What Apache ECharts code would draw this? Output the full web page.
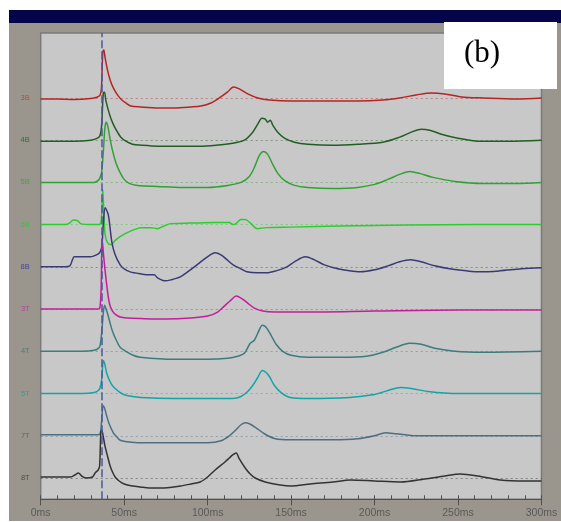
<!DOCTYPE html>
<html>
<head>
<meta charset="utf-8">
<script src="https://cdn.jsdelivr.net/npm/echarts@6/dist/echarts.min.js"></script>
<style>
  html, body { margin: 0; padding: 0; background: #ffffff; }
  #wrap { position: relative; width: 561px; height: 522px; overflow: hidden; }
  #frame { position: absolute; left: 9px; top: 10px; width: 552px; height: 511px; background: #9a968e; }
  #bar { position: absolute; left: 9px; top: 10px; width: 552px; height: 13px; background: #04044a; }
  #chart { position: absolute; left: 0; top: 0; width: 561px; height: 522px; }
</style>
</head>
<body>
<div id="wrap">
  <div id="frame"></div>
  <div id="bar"></div>
  <div id="chart"></div>
</div>
<script>
// ---- data (time in ms, deflection in trace units, up = positive) ----
const channels = ['3B', '4B', '5B', '6B', '8B', '3T', '4T', '5T', '7T', '8T'];
const xTicks = [0, 50, 100, 150, 200, 250, 300];
const markerTime = 36.8;

const trace3B = [[0,-1],[10,-1],[20,-1.5],[30,-0.5],[34,1],[35.6,3],[36.4,10],[37.2,46],[37.8,48],[38.6,40],[40,28],[41.6,18],[43.5,10],[46,3],[48,-1],[51,-5],[54,-8],[60,-9],[70,-10],[80,-10],[90,-9],[96,-8],[102,-5],[107,0],[112,6],[115.5,11],[119,9],[124,4],[130,0],[137,-2],[150,-3],[170,-3],[190,-3],[205,-2],[215,0],[225,3],[234,5],[242,4],[252,1],[265,0],[285,-1],[300,0]];
const trace4B = [[0,-1],[20,-1],[30,0],[34,2],[35.6,5],[36.5,15],[37.5,47],[38.2,48],[39,40],[40.5,30],[42,22],[44,14],[46,8],[48,3],[51,-1],[55,-4],[60,-5],[70,-6],[80,-6],[95,-6],[105,-5],[115,-3],[122,0],[127,8],[130,16],[132.5,22],[134.5,21],[136,18],[137.5,20],[139,15],[142,8],[146,2],[152,-2],[160,-4],[175,-5],[190,-4],[205,-2],[215,3],[222,8],[228,11],[233,10],[240,6],[250,2],[262,-1],[280,-1],[300,0]];
const trace5B = [[0,0],[20,0],[32,0],[34.5,2],[35.6,5],[36.5,10],[37.5,30],[38.5,55],[39.3,60],[40.2,56],[41.5,44],[43,32],[45,20],[47.5,10],[50,3],[53,-1],[58,-3],[70,-4],[85,-5],[100,-5],[112,-3],[120,0],[125,6],[128,15],[131,27],[133.5,31],[136,28],[139,18],[142,9],[146,2],[152,-3],[160,-5],[175,-6],[190,-5],[200,-2],[208,3],[215,8],[221,11],[227,9],[235,5],[248,1],[265,-1],[285,-1],[300,0]];
const trace6B = [[0,0],[15,0],[17.6,2],[19.5,4.5],[22,4],[24,1],[30,0],[35,0],[36.3,5],[37.2,35],[37.8,12],[38.6,-10],[40,-18],[42.2,-20],[44.5,-16],[47.5,-12],[51.8,-8],[56,-5],[60,-3],[66,-3],[70,-4],[73,-2],[78,1],[90,1.5],[105,2],[113,2],[115.3,0],[117,1],[120,5],[122.5,5],[126,1],[129.7,-4],[135,-3],[150,-2.5],[180,-1.5],[220,-0.5],[260,0],[300,0]];
const trace8B = [[0,0],[15,0],[17.5,1],[19,7],[20,10],[25,10],[29.6,10],[32,11],[34.5,13],[35.6,15],[36.6,20],[37.6,45],[38.6,59],[40.5,52],[42.6,25],[44.6,12],[47.6,2],[50,-2],[53.6,-5],[60,-7],[65.6,-8],[68,-8],[70,-11],[74.6,-14],[78,-13],[83.6,-10],[88,-5],[93.6,2],[99,9],[104.5,14],[108,12],[111,8],[115.3,2],[120,-2],[123.5,-5],[130,-6],[135.5,-6],[141,-4],[147.5,0],[152,5],[158.5,10],[164,7],[170,2],[178,-2],[185,-4],[191.5,-5],[200,-3],[208,1],[215,5],[221.5,7],[228,5],[236,1],[245,-2],[255,-4],[263.4,-5],[275,-4],[288,-2],[300,-1]];
const trace3T = [[0,0],[20,0],[30,0],[34,0],[35.4,1],[36.2,20],[36.8,70],[37.6,55],[38.6,38],[39.5,25],[40.5,12],[41.6,3],[43,-2],[44.6,-5],[47.6,-8],[52,-9],[60,-9.5],[75,-10],[90,-9],[100,-7],[106,-3],[110,3],[114,9],[117.1,13],[120,11],[124,6],[128,1],[133,-2],[140,-3],[160,-3],[200,-2],[250,-1],[300,-1]];
const trace4T = [[0,0],[25,0],[32,1],[34.5,3],[35.6,6],[36.6,20],[37.6,40],[38.3,46],[39.2,42],[40.5,35],[41.6,28],[43,20],[45,12],[47.6,4],[51,0],[55.4,-4],[59.6,-6],[80,-8],[100,-8],[112,-7],[118,-5],[122,-2],[125.5,8],[128,11],[130,18],[132.8,26],[135,24],[138,16],[141,7],[145,0],[150,-4],[160,-6],[180,-6],[195,-5],[205,-1],[213,4],[221,8],[228,7],[236,3],[248,0],[265,-1],[300,0]];
const trace5T = [[0,0],[25,0],[32,1],[34.5,3],[35.6,6],[36.6,15],[37.5,33],[38.3,30],[39.6,20],[41.5,12],[43.4,7],[46,3],[48.5,0],[51.6,-2],[60,-4],[80,-5],[100,-5],[115,-5],[120,-3],[124,2],[127,8],[130,16],[132.8,23],[135,21],[137,17],[140,8],[144,1],[149.6,-4],[160,-5],[185,-4],[200,-1],[208,3],[215.5,6],[222,5],[232,2],[250,0],[270,0],[300,0]];
const trace7T = [[0,1],[25,1],[34,1],[35.6,2],[36.5,15],[37.4,30],[38.2,28],[39.5,20],[41,12],[43.5,3],[45.5,-1],[47.6,-4.5],[52,-6],[59.6,-7],[80,-7],[100,-7],[108,-5],[113,0],[117,6],[120,11],[122.5,13],[125,12],[129,8],[134,2],[140.5,-3],[150,-4],[175,-4],[190,-3],[200,0],[206.5,3],[213,2],[225,0],[250,0],[300,0]];
const trace8T = [[0,1],[18,1],[20.5,3],[22.6,5],[24.5,2],[27,0],[31,1],[32.6,5],[34.4,8],[35.3,12],[36,45],[36.6,48],[37.4,42],[38.5,32],[40,22],[41.6,12],[43,6],[44.6,1],[47,-3],[50,-6],[55,-8],[59.6,-9],[65,-10],[72,-10],[83.6,-8],[90,-6],[95.5,-4],[100,1],[104.5,8],[110.4,16],[113,20],[115,23],[117.1,25],[119,19],[122.5,10],[125.5,4],[128.5,0],[134.5,-4],[143.5,-7],[150,-8],[161.5,-6],[175,-4],[185.6,-2],[200,-3],[215.5,-4],[230,-1],[242,2],[251.4,4],[262,2],[275.4,-2],[290,-3],[300,-3]];

const traces = [trace3B, trace4B, trace5B, trace6B, trace8B, trace3T, trace4T, trace5T, trace7T, trace8T];

// ---- styling ----
const lineColors = ['#b52424', '#225e22', '#33a033', '#2ccc2c', '#3a3a74', '#c41c9c', '#3c7c7c', '#14a4a4', '#4e6e82', '#333333'];
const labelColors = ['#c04848', '#2e6e2e', '#44a444', '#3cc03c', '#44449a', '#bc3ca0', '#447e7e', '#22a2a2', '#546c7e', '#4a4a4a'];
const spacing = 42.2;      // vertical distance between channel baselines (axis units)
const bottomOffset = 21.3; // baseline of last channel above axis
const yMax = 466;
const baselines = channels.map((c, i) => bottomOffset + spacing * (channels.length - 1 - i));

const chart = echarts.init(document.getElementById('chart'), null, { renderer: 'canvas' });

const rich = {};
channels.forEach((c, i) => { rich['c' + i] = { color: labelColors[i], fontSize: 7.5, fontFamily: 'Liberation Sans' }; });

const series = traces.map((tr, i) => ({
  name: channels[i],
  type: 'line',
  xAxisIndex: 0,
  yAxisIndex: 0,
  data: tr.map(p => [p[0], baselines[i] + p[1]]),
  showSymbol: false,
  symbol: 'none',
  smooth: 0.3,
  lineStyle: { color: lineColors[i], width: 1.5 },
  z: 3,
  markLine: {
    silent: true,
    symbol: 'none',
    label: { show: false },
    lineStyle: { color: lineColors[i], opacity: 0.45, type: [2, 3], width: 1 },
    data: [{ yAxis: baselines[i] }],
    z: 2
  }
}));

series.push({
  type: 'line',
  data: [],
  z: 10,
  markLine: {
    silent: true,
    symbol: 'none',
    label: { show: false },
    lineStyle: { color: '#4a5aa0', type: [8, 3], width: 1.5 },
    data: [{ xAxis: markerTime }],
    z: 10
  }
});

chart.setOption({
  backgroundColor: 'transparent',
  animation: false,
  grid: {
    left: 40.7, top: 33, right: 19.5, bottom: 22.7,
    show: true, backgroundColor: '#c8c8c8', borderColor: '#7a7a78', borderWidth: 1.5
  },
  xAxis: [{
    type: 'value', min: 0, max: 300, interval: 50, position: 'bottom',
    axisLine: { show: true, onZero: false, lineStyle: { color: '#505050', width: 1 } },
    axisTick: { show: true, inside: false, length: 6, lineStyle: { color: '#505050' } },
    axisLabel: {
      color: '#5a5a5a', fontSize: 10.5, fontFamily: 'Liberation Sans', margin: 8,
      customValues: xTicks, formatter: v => v + 'ms'
    },
    splitLine: { show: false }
  }, {
    type: 'value', min: 0, max: 300, interval: 10, position: 'bottom',
    axisLine: { show: false, onZero: false },
    axisTick: { show: true, inside: true, length: 4, lineStyle: { color: '#505050' } },
    axisLabel: { show: false },
    splitLine: { show: false }
  }],
  yAxis: {
    type: 'value', min: 0, max: yMax,
    axisLine: { show: false },
    axisTick: { show: false },
    splitLine: { show: false },
    axisLabel: {
      margin: 11,
      customValues: baselines,
      formatter: function (v) {
        let idx = 0, best = Infinity;
        baselines.forEach((b, i) => { const d = Math.abs(b - v); if (d < best) { best = d; idx = i; } });
        return '{c' + idx + '|' + channels[idx] + '}';
      },
      rich: rich
    }
  },
  graphic: [{
    type: 'group', z: 100,
    children: [
      { type: 'rect', shape: { x: 444, y: 22, width: 113, height: 67 }, style: { fill: '#ffffff' } },
      { type: 'text', x: 482, y: 54, style: { text: '(b)', font: '31px "Liberation Serif"', fill: '#000000', align: 'center', verticalAlign: 'middle' } }
    ]
  }],
  series: series
});
</script>
</body>
</html>
